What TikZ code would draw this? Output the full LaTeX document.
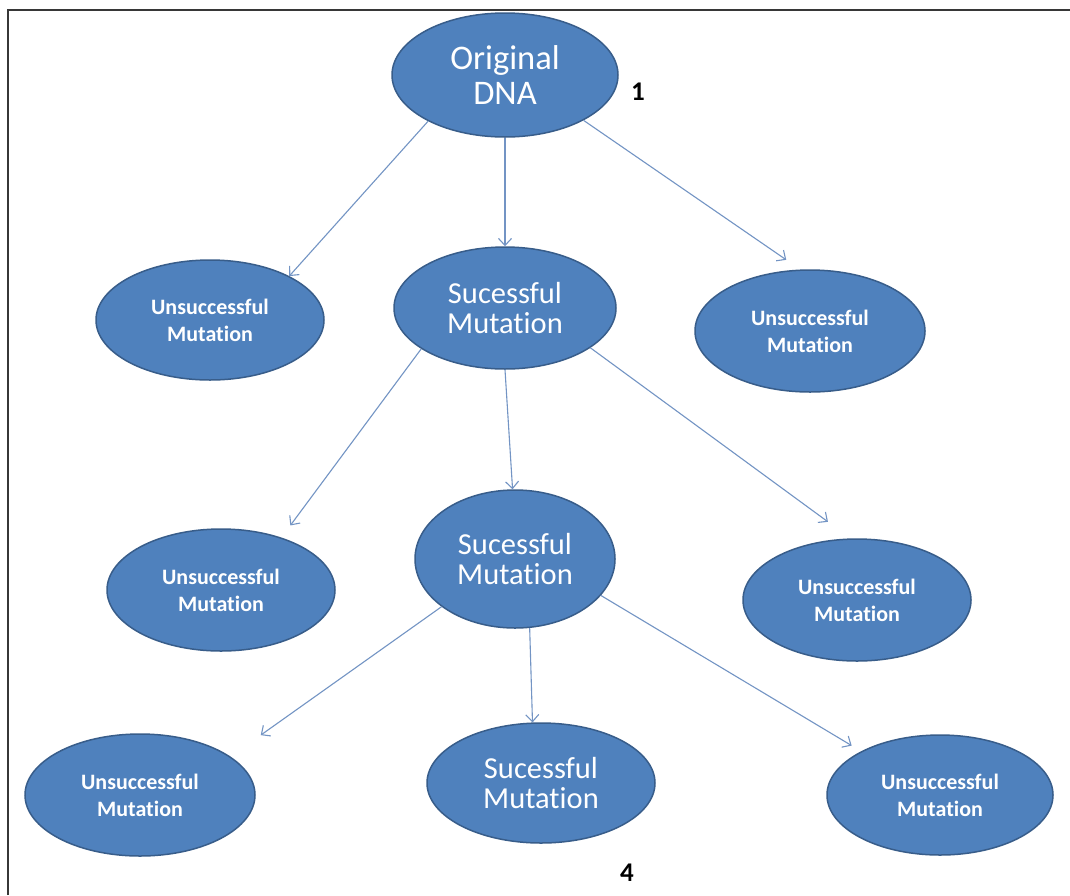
\documentclass[tikz,border=0pt]{standalone}
\usepackage{fontspec}
\setmainfont{Carlito}[Ligatures=NoCommon]
\usetikzlibrary{shapes.geometric,arrows.meta}
\definecolor{fillblue}{RGB}{79,129,189}
\definecolor{edgeblue}{RGB}{56,93,138}
\definecolor{arrowblue}{RGB}{115,148,196}
\definecolor{framegray}{RGB}{55,55,55}
\begin{document}
\begin{tikzpicture}[x=1pt,y=-1pt,
  oval/.style={ellipse, fill=fillblue, draw=edgeblue, line width=1.5pt, inner sep=0pt, text=white, align=center},
  big/.style={oval, font=\fontsize{30.5}{30}\selectfont},
  small/.style={oval, font=\fontsize{22}{27}\selectfont\bfseries},
  arr/.style={draw=arrowblue, line width=1.1pt, -{Straight Barb[length=7pt,width=13pt]}},
  num/.style={font=\fontsize{27}{27}\selectfont\bfseries, text=black, inner sep=0pt}]
\useasboundingbox (0,0) rectangle (1070,895);
\fill[white] (0,0) rectangle (1070,895);
\draw[framegray, line width=2.8pt] (8,895) -- (8,10) -- (1070,10);

\node[oval, minimum width=226pt, minimum height=124pt, font=\fontsize{34.5}{35}\selectfont] (dna) at (505,75) {Original\\DNA};
\node[small, minimum width=228pt, minimum height=120pt] (u1) at (210,320) {Unsuccessful\\Mutation};
\node[big, minimum width=222pt, minimum height=122pt] (s1) at (505,308) {Sucessful\\Mutation};
\node[small, minimum width=230pt, minimum height=122pt] (u2) at (810,331) {Unsuccessful\\Mutation};
\node[small, minimum width=228pt, minimum height=122pt] (u3) at (221,590) {Unsuccessful\\Mutation};
\node[big, minimum width=200pt, minimum height=138pt] (s2) at (515,559) {Sucessful\\Mutation};
\node[small, minimum width=228pt, minimum height=122pt] (u4) at (857,600) {Unsuccessful\\Mutation};
\node[small, minimum width=230pt, minimum height=122pt] (u5) at (140,795) {Unsuccessful\\Mutation};
\node[big, minimum width=228pt, minimum height=120pt] (s3) at (541,783) {Sucessful\\Mutation};
\node[small, minimum width=226pt, minimum height=120pt] (u6) at (940,795) {Unsuccessful\\Mutation};

\node[num] (n1) at (638,92) {1};
\node[num] (n4) at (627,873) {4};

\draw[arr] (dna.211) -- (u1.29);
\draw[arr] (dna.south) -- (s1.north);
\draw[arr, shorten >=17pt] (dna.-30) -- (u2.99);
\draw[arr, shorten >=15pt] (s1.206) -- (u3.41);
\draw[arr] (s1.south) -- (s2.92);
\draw[arr, shorten >=28pt] (s1.-25) -- (u4.96);
\draw[arr, shorten >=37pt] (s2.213) -- (u5.23);
\draw[arr] (s2.-78) -- (s3.98);
\draw[arr, shorten >=11pt] (s2.-23) -- (u6.151);
\end{tikzpicture}
\end{document}
